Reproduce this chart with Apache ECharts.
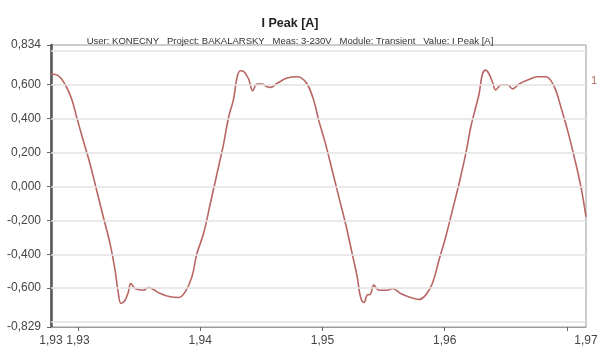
<!DOCTYPE html>
<html>
<head>
<meta charset="utf-8">
<script src="https://cdn.jsdelivr.net/npm/echarts@6/dist/echarts.min.js"></script>
<style>
html,body{margin:0;padding:0;background:#fff;}
#c{width:602px;height:351px;}
</style>
</head>
<body>
<div id="c"></div>
<script>
const chartTitle = 'I Peak [A]';
const chartSubtitle = 'User: KONECNY   Project: BAKALARSKY   Meas: 3-230V   Module: Transient   Value: I Peak [A]';
const seriesName = '1';
const xMin = 1.92779, xMax = 1.97156;
const yMin = -0.829, yMax = 0.834;
const xTickValues = [1.93, 1.94, 1.95, 1.96, 1.97];
const xLabelValues = [1.92779, 1.93, 1.94, 1.95, 1.96, 1.97156];
const yLabelValues = [-0.829, -0.6, -0.4, -0.2, 0, 0.2, 0.4, 0.6, 0.834];
const yGridValues = [-0.8, -0.6, -0.4, -0.2, 0, 0.2, 0.4, 0.6, 0.8];

const timeS = [
1.92779,1.92839,1.92893,1.92948,1.92989,1.93043,1.93098,1.93153,1.93207,1.93262,
1.93303,1.93330,1.93352,1.93385,1.93412,1.93432,1.93467,1.93535,1.93576,1.93617,
1.93672,1.93754,1.93822,1.93877,1.93932,1.93973,1.94027,1.94082,1.94137,1.94191,
1.94232,1.94273,1.94301,1.94328,1.94355,1.94396,1.94429,1.94465,1.94506,1.94547,
1.94574,1.94629,1.94711,1.94793,1.94820,1.94875,1.94929,1.94970,1.95025,1.95080,
1.95134,1.95189,1.95243,1.95284,1.95311,1.95339,1.95366,1.95393,1.95420,1.95461,
1.95530,1.95571,1.95639,1.95721,1.95789,1.95844,1.95899,1.95953,1.96008,1.96063,
1.96117,1.96172,1.96213,1.96254,1.96281,1.96309,1.96336,1.96363,1.96391,1.96418,
1.96459,1.96514,1.96555,1.96609,1.96678,1.96760,1.96828,1.96869,1.96910,1.96951,
1.97006,1.97060,1.97115,1.97156
];
const currentA = [
0.663,0.653,0.604,0.516,0.408,0.271,0.134,-0.024,-0.180,-0.337,
-0.494,-0.631,-0.690,-0.671,-0.622,-0.573,-0.602,-0.612,-0.596,-0.608,
-0.631,-0.651,-0.655,-0.622,-0.533,-0.396,-0.278,-0.102,0.075,0.251,
0.408,0.516,0.643,0.682,0.678,0.633,0.565,0.604,0.604,0.588,
0.584,0.608,0.639,0.647,0.643,0.604,0.506,0.388,0.251,0.094,
-0.063,-0.220,-0.396,-0.533,-0.651,-0.684,-0.641,-0.635,-0.582,-0.612,
-0.612,-0.602,-0.631,-0.655,-0.667,-0.641,-0.573,-0.435,-0.298,-0.141,
0.016,0.192,0.349,0.467,0.545,0.663,0.686,0.663,0.614,0.569,
0.598,0.600,0.575,0.604,0.627,0.647,0.647,0.624,0.565,0.467,
0.329,0.173,-0.004,-0.180
];

const lineColor = '#b86664';
const data = timeS.map((t, i) => [t, currentA[i]]);
const fmtComma = (v, d) => v.toFixed(d).replace('.', ',');

const chart = echarts.init(document.getElementById('c'), null, {renderer: 'canvas'});
chart.setOption({
  animation: false,
  backgroundColor: '#fff',
  title: [
    {text: chartTitle, left: 285, textAlign: 'center', top: 12,
     textStyle: {fontFamily: 'Liberation Sans', fontSize: 12.5, fontWeight: 'bold', color: '#222'}},
    {text: chartSubtitle, left: 285, textAlign: 'center', top: 31,
     textStyle: {fontFamily: 'Liberation Sans', fontSize: 9.5, fontWeight: 'normal', color: '#333'}}
  ],
  legend: {
    data: [{name: seriesName, icon: 'none'}],
    right: 0, top: 69, itemWidth: 0, itemGap: 0,
    textStyle: {color: lineColor, fontSize: 11, fontFamily: 'Liberation Sans'}
  },
  grid: {left: 51, right: 16, top: 45, bottom: 24, show: true, borderColor: '#999', borderWidth: 1, containLabel: false},
  xAxis: {
    type: 'value', min: xMin, max: xMax,
    axisLine: {show: true, onZero: false, lineStyle: {color: '#999', width: 1}},
    axisTick: {show: true, length: 4, lineStyle: {color: '#666'}, customValues: xTickValues},
    axisLabel: {customValues: xLabelValues, color: '#444', fontSize: 12, fontFamily: 'Liberation Sans', margin: 8,
      formatter: v => fmtComma(v, 2), showMinLabel: true, showMaxLabel: true, hideOverlap: false},
    splitLine: {show: false}
  },
  yAxis: {
    type: 'value', min: yMin, max: yMax,
    axisLine: {show: true, onZero: false, lineStyle: {color: '#555', width: 2.5}},
    axisTick: {show: true, length: 4, lineStyle: {color: '#666'}, customValues: yLabelValues},
    axisLabel: {customValues: yLabelValues, color: '#444', fontSize: 12, fontFamily: 'Liberation Sans', margin: 10,
      formatter: v => fmtComma(v, 3), showMinLabel: true, showMaxLabel: true, hideOverlap: false},
    splitLine: {show: false}
  },
  series: [{
    name: seriesName,
    type: 'line',
    data: data,
    showSymbol: false,
    smooth: 0.4,
    lineStyle: {color: lineColor, width: 1.6},
    itemStyle: {color: lineColor},
    markLine: {
      silent: true, symbol: 'none', label: {show: false},
      lineStyle: {color: '#e2e2e2', width: 1.5, type: 'solid'},
      data: yGridValues.map(v => ({yAxis: v}))
    },
    z: 3
  }]
});
</script>
</body>
</html>
